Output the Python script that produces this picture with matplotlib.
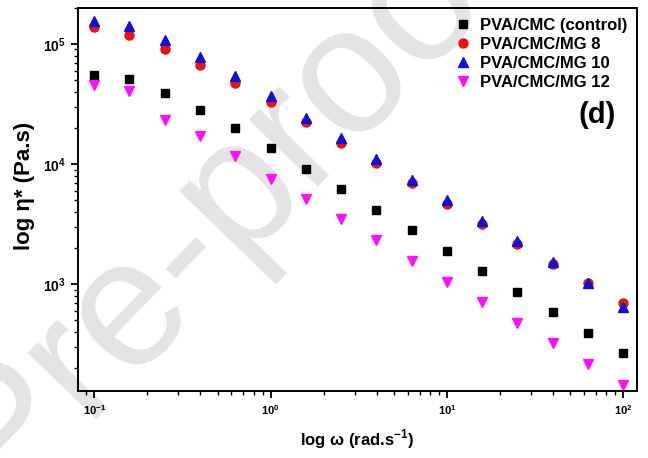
import matplotlib
matplotlib.use("Agg")
import matplotlib.pyplot as plt
from matplotlib.ticker import LogLocator, FuncFormatter, NullFormatter
import numpy as np

plt.rcParams['font.family'] = ['Liberation Sans', 'DejaVu Sans']
plt.rcParams['font.weight'] = 'bold'
plt.rcParams['mathtext.fontset'] = 'custom'
plt.rcParams['mathtext.bf'] = 'Liberation Sans:bold'
plt.rcParams['mathtext.rm'] = 'Liberation Sans:bold'

# angular frequency (rad/s)
omega = [0.1, 0.158, 0.251, 0.398, 0.631, 1.0, 1.58, 2.51, 3.98, 6.31,
         10.0, 15.8, 25.1, 39.8, 63.1, 100.0]

# complex viscosity (Pa.s)
eta_control = [55500, 51000, 39300, 28400, 19800, 13600, 9140, 6190, 4160, 2820,
               1905, 1283, 863, 588, 395, 268]
eta_mg8 = [138600, 118800, 91400, 66800, 47300, 32600, 22200, 15100, 10300, 6950,
           4670, 3180, 2170, 1475, 1019, 695]
eta_mg10 = [154000, 142000, 108600, 78000, 53700, 36600, 24300, 16500, 11000, 7350,
            4980, 3390, 2280, 1525, 1019, 650]
eta_mg12 = [45800, 40300, 23400, 17000, 11700, 7540, 5110, 3480, 2330, 1565,
            1051, 708, 476, 322, 217, 146]

labels = ['PVA/CMC (control)', 'PVA/CMC/MG 8', 'PVA/CMC/MG 10', 'PVA/CMC/MG 12']

fig = plt.figure(figsize=(6.48, 4.58), dpi=100)
ax = fig.add_axes([0.120, 0.146, 0.863, 0.837])
ax.patch.set_alpha(0)

# watermark behind everything, split at the hyphen so its place can be set
wm = dict(fontsize=130, color='#e4e4e4', rotation=46, rotation_mode='anchor',
          va='baseline', zorder=-5, fontweight='normal')
fig.text(0.366, 0.435, 'Pre-', ha='right', **wm)
fig.text(0.366, 0.435, 'proof', ha='left', **wm)

ax.plot(omega, eta_control, 's', color='black', ms=5.5, label=labels[0])
ax.plot(omega, eta_mg8, 'o', color='#ee1111', ms=6.5, label=labels[1])
ax.plot(omega, eta_mg10, '^', color='#1010d8', ms=7, label=labels[2])
ax.plot(omega, eta_mg12, 'v', color='#ff10ff', ms=7, label=labels[3])

ax.set_xscale('log')
ax.set_yscale('log')
ax.set_xlim(0.0805, 120)
ax.set_ylim(129, 2.0e5)

fmt = FuncFormatter(lambda v, p: r'$\mathbf{10^{%d}}$' % int(round(np.log10(v))))
for axis in (ax.xaxis, ax.yaxis):
    axis.set_major_locator(LogLocator(base=10))
    axis.set_minor_locator(LogLocator(base=10, subs=np.arange(2, 10)))
    axis.set_major_formatter(fmt)
    axis.set_minor_formatter(NullFormatter())

ax.tick_params(which='major', direction='out', length=5, width=1.3)
ax.tick_params(which='minor', direction='out', length=3, width=1.0)
ax.tick_params(axis='x', labelsize=8)
ax.tick_params(axis='y', labelsize=10)
for s in ax.spines.values():
    s.set_linewidth(1.4)

ax.set_xlabel('log ω (rad.s$^{\\mathbf{-1}}$)', fontsize=12, fontweight='bold', labelpad=8)
ax.set_ylabel('log η* (Pa.s)', fontsize=16, fontweight='bold', labelpad=6)
ax.yaxis.label.set_y(0.535)

leg = ax.legend(loc='upper right', frameon=False, fontsize=12, handletextpad=0.4,
                labelspacing=0.25, borderaxespad=0.2, handlelength=1.2)

ax.text(0.962, 0.72, '(d)', transform=ax.transAxes, fontsize=21, fontweight='bold',
        ha='right', va='center')

fig.savefig('out.png', dpi=100)
